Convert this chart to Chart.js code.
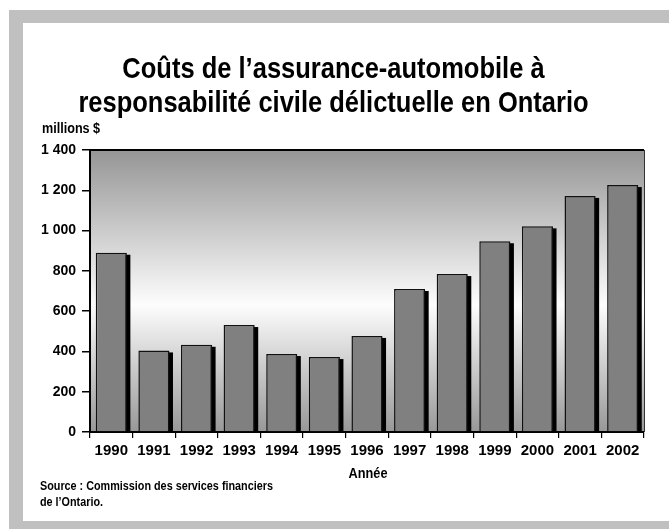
<!DOCTYPE html>
<html><head><meta charset="utf-8">
<script src="https://cdn.jsdelivr.net/npm/chart.js@4"></script>
<style>
html,body{margin:0;padding:0;background:#fff;width:669px;height:529px;overflow:hidden;}
#wrap{position:relative;width:669px;height:529px;}
.frame{position:absolute;background:#c0c0c0;}
canvas{position:absolute;left:0;top:0;}
.t{position:absolute;font-family:"Liberation Sans",Arial,sans-serif;font-weight:bold;color:#000;white-space:nowrap;}
.c{transform:scaleX(0.85);transform-origin:50% 50%;}
.l{transform:scaleX(0.9);transform-origin:0 50%;}
</style></head>
<body><div id="wrap">
<div class="frame" style="left:9px;top:10px;width:660px;height:13px"></div>
<div class="frame" style="left:9px;top:10px;width:14px;height:519px"></div>
<div class="frame" style="left:9px;top:521px;width:660px;height:8px"></div>
<canvas id="c" width="669" height="529"></canvas>
<div class="t c" style="left:0;width:667px;top:51px;text-align:center;font-size:30px;line-height:34px">Coûts de l’assurance-automobile à<br>responsabilité civile délictuelle en Ontario</div>
<div class="t l" style="left:42px;top:120px;font-size:14px;line-height:16px">millions $</div>
<div class="t c" style="left:268px;width:200px;top:464px;text-align:center;font-size:15px;line-height:18px">Année</div>
<div class="t l" style="left:40px;top:478px;font-size:12px;line-height:16px">Source : Commission des services financiers<br>de l’Ontario.</div>
</div>
<script>
const years = ['1990','1991','1992','1993','1994','1995','1996','1997','1998','1999','2000','2001','2002'];
const costs = [890, 405, 433, 531, 387, 372, 477, 710, 784, 947, 1021, 1172, 1226];
const yMin = 0, yMax = 1400, yStep = 200;

const FONT = '"Liberation Sans",Arial,sans-serif';

const deco = {
  id: 'deco',
  beforeDraw(chart) {
    const {ctx, chartArea: a} = chart;
    const g = ctx.createLinearGradient(0, a.top, 0, a.bottom);
    g.addColorStop(0, '#959595');
    g.addColorStop(0.55, '#fdfdfd');
    g.addColorStop(1, '#989898');
    ctx.save();
    ctx.fillStyle = g;
    ctx.fillRect(a.left, a.top, a.right - a.left, a.bottom - a.top);
    ctx.restore();
  },
  beforeDatasetsDraw(chart) {
    const {ctx} = chart;
    const meta = chart.getDatasetMeta(0);
    ctx.save();
    ctx.fillStyle = '#000';
    meta.data.forEach(el => {
      const p = el.getProps(['x', 'y', 'base', 'width'], true);
      ctx.fillRect(p.x - p.width / 2 + 3.5, p.y + 2, p.width, p.base - p.y - 2);
    });
    ctx.restore();
  },
  afterDraw(chart) {
    const {ctx, chartArea: a} = chart;
    ctx.save();
    ctx.strokeStyle = '#000';
    ctx.lineWidth = 2;
    ctx.beginPath();
    ctx.moveTo(a.left, a.top);
    ctx.lineTo(a.right, a.top);
    ctx.stroke();
    ctx.lineWidth = 1;
    ctx.strokeStyle = '#333';
    ctx.beginPath();
    ctx.moveTo(a.right + 0.5, a.top);
    ctx.lineTo(a.right + 0.5, a.bottom);
    ctx.stroke();
    ctx.restore();
  }
};

new Chart(document.getElementById('c'), {
  type: 'bar',
  data: {
    labels: years,
    datasets: [{
      data: costs,
      backgroundColor: '#808080',
      borderColor: '#111',
      borderWidth: 1.5,
      categoryPercentage: 1,
      barPercentage: 0.73
    }]
  },
  options: {
    responsive: false,
    animation: false,
    layout: {padding: {top: 150, right: 25, bottom: 67, left: 0}},
    plugins: {legend: {display: false}, tooltip: {enabled: false}, title: {display: false}},
    scales: {
      x: {
        offset: true,
        grid: {offset: true, drawOnChartArea: false, drawTicks: true, tickLength: 6, color: '#000', lineWidth: 1.2},
        border: {display: true, color: '#000', width: 2},
        ticks: {color: '#000', font: {family: FONT, size: 15, weight: 'bold'}, padding: 4, maxRotation: 0, autoSkip: false},
        afterFit(s) { s.height = 30; }
      },
      y: {
        min: yMin, max: yMax,
        grid: {drawOnChartArea: false, drawTicks: true, tickLength: 8, color: '#000', lineWidth: 1.5},
        border: {display: true, color: '#000', width: 2},
        ticks: {
          stepSize: yStep, color: '#000', padding: 6,
          font: {family: FONT, size: 14, weight: 'bold'},
          callback: v => String(v).replace(/\B(?=(\d{3})+(?!\d))/g, ' ')
        },
        afterFit(s) { s.width = 90; }
      }
    }
  },
  plugins: [deco]
});
</script>
</body></html>
